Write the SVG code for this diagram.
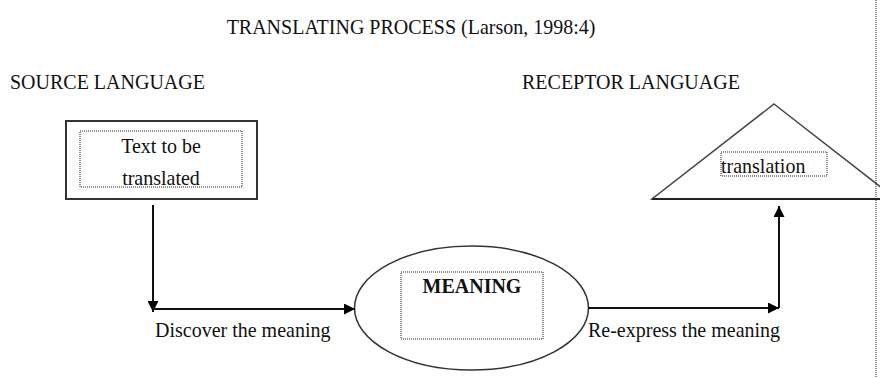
<svg xmlns="http://www.w3.org/2000/svg" width="880" height="378" viewBox="0 0 880 378">
<defs>
<style>
text{font-family:"Liberation Serif","Times New Roman",serif;font-size:20px;fill:#111}
.b{font-weight:bold}
.solid{fill:none;stroke:#333;stroke-width:2}
.dot{fill:none;stroke:#222;stroke-width:1;stroke-dasharray:1 1}
.conn{fill:none;stroke:#111;stroke-width:2}
</style>
<marker id="ah" viewBox="0 0 10 10" refX="10" refY="5" markerWidth="11" markerHeight="11" markerUnits="userSpaceOnUse" orient="auto">
<path d="M0,0 L10,5 L0,10 z" fill="#000"/>
</marker>
</defs>
<rect width="880" height="378" fill="#fff"/>
<line x1="876" y1="0" x2="876" y2="378" class="dot" stroke="#555"/>
<g id="labels">
<text transform="translate(411,34) scale(1,1.1)" text-anchor="middle">TRANSLATING PROCESS (Larson, 1998:4)</text>
<text transform="translate(10,89) scale(1,1.1)">SOURCE LANGUAGE</text>
<text transform="translate(522,89) scale(1,1.1)">RECEPTOR LANGUAGE</text>
</g>
<g id="source">
<rect x="66" y="121" width="191" height="78" class="solid"/>
<rect x="80" y="131" width="162" height="56" class="dot"/>
<text transform="translate(161,153) scale(1,1.1)" text-anchor="middle">Text to be</text>
<text transform="translate(161,185) scale(1,1.1)" text-anchor="middle">translated</text>
</g>
<g id="meaning">
<ellipse cx="471.5" cy="308" rx="117" ry="62" fill="none" stroke="#333" stroke-width="1.5"/>
<rect x="401" y="272" width="142" height="67" class="dot"/>
<text transform="translate(472,293) scale(1,1.1)" text-anchor="middle" class="b">MEANING</text>
</g>
<g id="receptor">
<polygon points="774,104 896,199 652,199" fill="none" stroke="#444" stroke-width="1.5"/>
<line x1="652" y1="199" x2="880" y2="199" stroke="#222" stroke-width="2"/>
<rect x="721" y="152" width="106" height="24" class="dot"/>
<text transform="translate(721,173) scale(1,1.1)">translation</text>
</g>
<g id="connectors">
<line x1="153" y1="205" x2="153" y2="312" class="conn" marker-end="url(#ah)"/>
<line x1="153" y1="309" x2="355" y2="309" class="conn" marker-end="url(#ah)"/>
<line x1="588" y1="308" x2="779" y2="308" class="conn" marker-end="url(#ah)"/>
<line x1="779" y1="308" x2="779" y2="206" class="conn" marker-end="url(#ah)"/>
<text transform="translate(155,337) scale(1,1.1)">Discover the meaning</text>
<text transform="translate(588,337) scale(1,1.1)">Re-express the meaning</text>
</g>
</svg>
